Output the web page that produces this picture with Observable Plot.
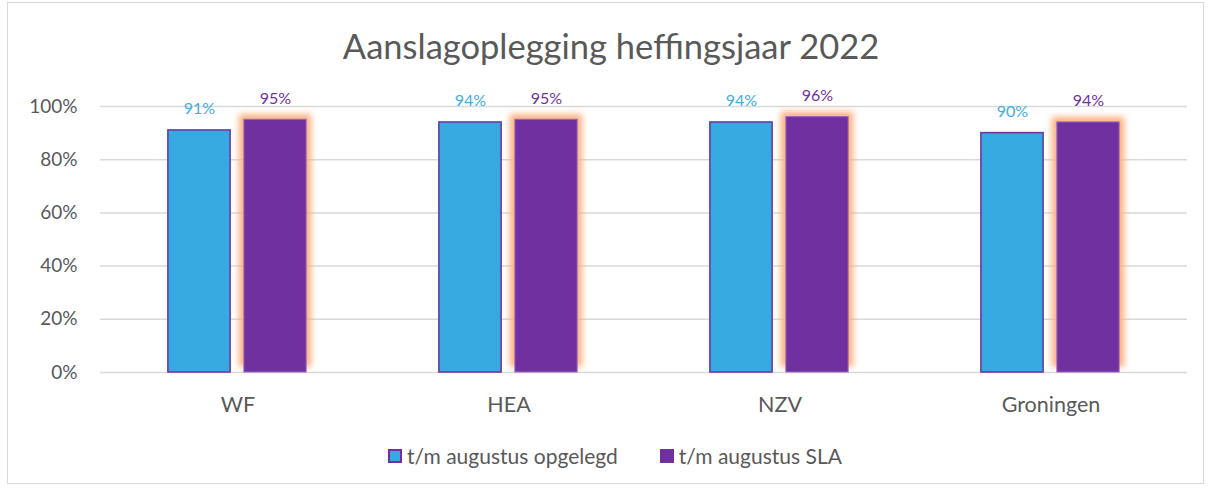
<!DOCTYPE html>
<html>
<head>
<meta charset="utf-8">
<script src="https://cdn.jsdelivr.net/npm/d3@7"></script>
<script src="https://cdn.jsdelivr.net/npm/@observablehq/plot@0.6"></script>
<style>
  body { margin: 0; background: #fff; font-family: Lato, "Open Sans", sans-serif; }
  #wrap { position: relative; width: 1212px; height: 488px; }
  #frame { position: absolute; left: 7px; top: 2px; width: 1197px; height: 482px; border: 1px solid #d9d9d9; box-sizing: border-box; }
  #title { position: absolute; left: 0; top: 25px; width: 1212px; text-align: center; font-size: 34.5px; color: #595959; padding-left: 10px; box-sizing: border-box; }
  #chart { position: absolute; left: 0; top: 80px; }
  #legend { position: absolute; left: 0; top: 443px; width: 1212px; display: flex; justify-content: center; gap: 42px; font-size: 21px; color: #595959; padding-left: 18px; box-sizing: border-box; }
  #legend span.item { display: flex; align-items: center; gap: 5px; }
  #legend span.sw { display: inline-block; width: 14px; height: 14px; box-sizing: border-box; }
</style>
</head>
<body>
<div id="wrap">
  <div id="frame"></div>
  <div id="title">Aanslagoplegging heffingsjaar 2022</div>
  <div id="chart"></div>
  <div id="legend"></div>
</div>
<script>
const categories = ["WF", "HEA", "NZV", "Groningen"];
const seriesNames = ["t/m augustus opgelegd", "t/m augustus SLA"];
const opgelegd = [0.91, 0.94, 0.94, 0.90];
const sla = [0.95, 0.95, 0.96, 0.94];
const yTicks = [0, 0.2, 0.4, 0.6, 0.8, 1.0];

const blue = "#35A9E0", purple = "#7030A0", blueText = "#41ADE3";

const dataA = categories.map((c, i) => ({cat: c, v: opgelegd[i]}));
const dataB = categories.map((c, i) => ({cat: c, v: sla[i]}));

const W = 1212, H = 345;
const step = (W - 100 - 25) / categories.length;
const half = step / 2;
const aL = half - 70, aR = step - (half - 7);
const bL = half + 6, bR = step - (half + 69);

const plot = Plot.plot({
  width: W,
  height: H,
  marginLeft: 100,
  marginRight: 25,
  marginTop: 26,
  marginBottom: 53,
  style: {fontFamily: "Lato, 'Open Sans', sans-serif", fontSize: "19px", color: "#595959", background: "transparent"},
  x: {domain: categories, padding: 0, label: null, tickSize: 0, tickPadding: 24},
  y: {domain: [0, 1], ticks: yTicks, tickFormat: d => Math.round(d * 100) + "%", label: null, tickSize: 0, tickPadding: 23, grid: false},
  marks: [
    Plot.ruleY(yTicks, {stroke: "#d9d9d9", strokeWidth: 1.5}),
    Plot.barY(dataA, {x: "cat", y: "v", fill: blue, stroke: purple, strokeWidth: 1.5, insetLeft: aL, insetRight: aR}),
    Plot.barY(dataB, {x: "cat", y: "v", fill: "#F9B07E", insetLeft: bL - 5, insetRight: bR - 5, dy: -5, className: "glow"}),
    Plot.barY(dataB, {x: "cat", y: "v", fill: purple, stroke: "#9966C2", strokeWidth: 1, insetLeft: bL, insetRight: bR}),
    Plot.text(dataA, {x: "cat", y: "v", text: d => Math.round(d.v * 100) + "%", dx: -38.5, dy: -16, lineAnchor: "bottom", fill: blueText, fontSize: 16}),
    Plot.text(dataB, {x: "cat", y: "v", text: d => Math.round(d.v * 100) + "%", dx: 37.5, dy: -16, lineAnchor: "bottom", fill: purple, fontSize: 16})
  ]
});

const ns = "http://www.w3.org/2000/svg";
const defs = document.createElementNS(ns, "defs");
defs.innerHTML = '<filter id="glowF" x="-30%" y="-10%" width="160%" height="120%"><feGaussianBlur stdDeviation="3"/></filter>';
plot.insertBefore(defs, plot.firstChild);
const g = plot.querySelector("g.glow") || plot.querySelector(".glow");
if (g) g.setAttribute("filter", "url(#glowF)");
const xl = plot.querySelector('g[aria-label="x-axis tick label"]') || plot.querySelector('g[aria-label="x-axis"]');
if (xl) xl.setAttribute("font-size", "21.5");
document.getElementById("chart").appendChild(plot);

const legend = document.getElementById("legend");
seriesNames.forEach((name, i) => {
  const item = document.createElement("span");
  item.className = "item";
  const sw = document.createElement("span");
  sw.className = "sw";
  sw.style.background = i === 0 ? blue : purple;
  if (i === 0) sw.style.border = "2px solid " + purple;
  item.appendChild(sw);
  item.appendChild(document.createTextNode(name));
  legend.appendChild(item);
});
</script>
</body>
</html>
